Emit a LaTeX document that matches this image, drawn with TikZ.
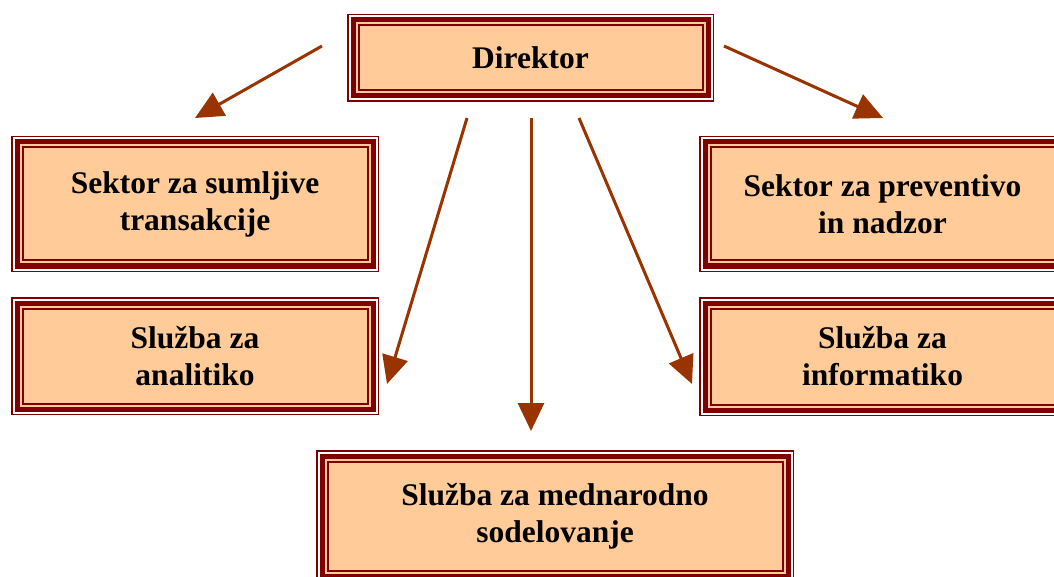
\documentclass[tikz,border=0pt]{standalone}
\usepackage{fontspec}
\setmainfont{Liberation Serif}
\usetikzlibrary{arrows.meta}
\definecolor{bord}{HTML}{800000}
\definecolor{peach}{HTML}{FFCC99}
\definecolor{arr}{HTML}{993300}
\tikzset{
  x=1pt, y=-1pt,
  lbl/.style={align=center, font=\fontsize{31.5}{37}\selectfont\bfseries, text=black, inner sep=0pt},
  conn/.style={draw=arr, line width=3pt, -{Triangle[length=28pt, width=26pt]}, shorten >=0pt}
}
\newcommand{\fbx}[6]{%
  \draw[bord, line width=1.5pt] ({#2+0.75},{#3+0.75}) rectangle ({#4-0.75},{#5-0.75});
  \fill[peach] ({#2+3.5},{#3+3.5}) rectangle ({#4-3.5},{#5-3.5});
  \draw[bord, line width=5pt] ({#2+6},{#3+6}) rectangle ({#4-6},{#5-6});
  \draw[bord, line width=2pt] ({#2+11.5},{#3+11.5}) rectangle ({#4-11.5},{#5-11.5});
  \node[lbl] (#1) at ({(#2+#4)/2},{(#3+#5)/2}) {#6};
}
\begin{document}
\begin{tikzpicture}
\useasboundingbox (0,0) rectangle (1054,577);
\clip (0,0) rectangle (1054,577);
\fill[white] (0,0) rectangle (1054,577);
\fbx{dir}{347}{14}{714}{102}{Direktor}
\fbx{sum}{11}{136}{379}{272}{Sektor za sumljive\\transakcije}
\fbx{ana}{11}{297}{379}{415}{Služba za\\analitiko}
\fbx{pre}{699}{136}{1066}{272}{Sektor za preventivo\\in nadzor}
\fbx{inf}{699}{297}{1066}{416}{Služba za\\informatiko}
\fbx{med}{316}{450}{794}{582}{Služba za mednarodno\\sodelovanje}
\coordinate (s1) at (322,46);
\coordinate (e1) at (195,118);
\coordinate (s2) at (724,46);
\coordinate (e2) at (883,118);
\coordinate (s3) at (467,118);
\coordinate (e3) at (387,384);
\coordinate (s4) at (531,118);
\coordinate (e4) at (531,431);
\coordinate (s5) at (579,118);
\coordinate (e5) at (692,384);
\draw[conn] (s1) -- (e1);
\draw[conn] (s2) -- (e2);
\draw[conn] (s3) -- (e3);
\draw[conn] (s4) -- (e4);
\draw[conn] (s5) -- (e5);
\end{tikzpicture}
\end{document}
